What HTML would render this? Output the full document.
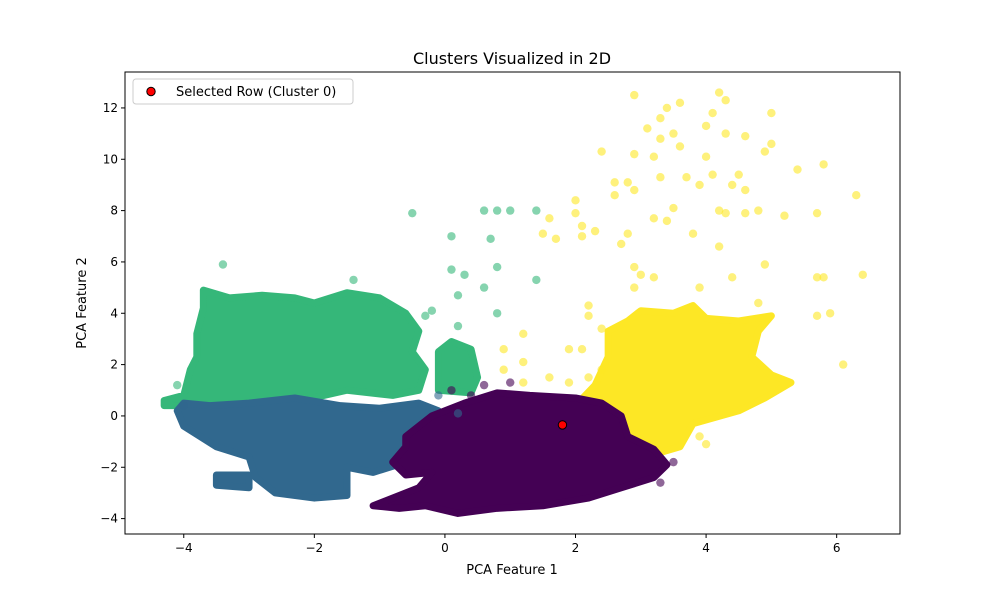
<!DOCTYPE html>
<html><head><meta charset="utf-8"><style>
body{margin:0;background:#fff;font-family:"Liberation Sans","DejaVu Sans",sans-serif}
svg text{font-family:"DejaVu Sans","Liberation Sans",sans-serif;fill:#000}
</style></head><body>
<svg id="chart" width="1000" height="600" xmlns="http://www.w3.org/2000/svg">
<rect width="1000" height="600" fill="#fff"/>
<text x="512" y="64" font-size="16" text-anchor="middle">Clusters Visualized in 2D</text>
<g id="marks"></g>
<rect x="125" y="72" width="775" height="462" fill="none" stroke="#000" stroke-width="1"/>
<g id="axes"></g>
<text x="512" y="574" font-size="13" text-anchor="middle">PCA Feature 1</text>
<text x="86" y="303" font-size="13" text-anchor="middle" transform="rotate(-90 86 303)">PCA Feature 2</text>
<g>
<rect x="133" y="79" width="220" height="25" rx="3" fill="#fff" fill-opacity="0.8" stroke="#ccc"/>
<circle cx="151" cy="91.5" r="4.2" fill="red" stroke="#000"/>
<text x="176" y="96" font-size="13">Selected Row (Cluster 0)</text>
</g>
</svg>
<script>
const xTicks=[-4,-2,0,2,4,6];
const yTicks=[-4,-2,0,2,4,6,8,10,12];
const clusterColors=["#440154","#31688e","#35b779","#fde725"];
const greenHull=[[-4.3,0.6],[-4.0,0.8],[-3.9,1.8],[-3.8,2.3],[-3.8,3.2],[-3.7,4.2],[-3.7,4.9],[-3.3,4.6],[-2.8,4.7],[-2.3,4.6],[-2.0,4.4],[-1.5,4.8],[-1.0,4.6],[-0.6,4.0],[-0.4,3.3],[-0.5,2.5],[-0.3,1.8],[-0.4,1.0],[-0.8,0.8],[-1.5,1.0],[-2.2,0.6],[-3.0,0.5],[-3.8,0.4],[-4.3,0.4]];
const greenHull2=[[-0.1,1.0],[-0.1,2.5],[0.1,2.9],[0.4,2.6],[0.5,1.5],[0.4,0.9]];
const blueHull=[[-4.0,0.5],[-3.6,0.4],[-3.0,0.5],[-2.3,0.7],[-1.6,0.4],[-1.0,0.3],[-0.4,0.5],[-0.1,0.2],[-0.2,-0.5],[-0.6,-1.8],[-1.1,-2.2],[-1.5,-2.0],[-1.5,-3.1],[-2.0,-3.2],[-2.6,-3.0],[-2.9,-2.4],[-3.0,-1.6],[-3.5,-1.2],[-4.0,-0.4],[-4.1,0.2]];
const blueHull2=[[-3.5,-2.3],[-3.0,-2.3],[-3.0,-2.8],[-3.5,-2.7]];
const purpleHull=[[-0.6,-0.8],[-0.2,0.0],[0.3,0.5],[0.8,0.9],[1.3,0.8],[2.0,0.7],[2.4,0.5],[2.7,0.0],[2.8,-0.8],[3.2,-1.3],[3.4,-1.9],[3.2,-2.4],[2.7,-2.8],[2.2,-3.2],[1.5,-3.5],[0.8,-3.6],[0.2,-3.8],[-0.3,-3.5],[-0.7,-3.6],[-1.1,-3.5],[-0.9,-3.3],[-0.4,-2.8],[-0.2,-2.2],[-0.6,-2.3],[-0.8,-1.8],[-0.6,-1.2]];
const yellowHull=[[2.0,0.4],[2.3,1.2],[2.5,2.3],[2.5,3.3],[2.8,3.7],[3.0,4.1],[3.5,4.0],[3.8,4.3],[4.0,3.8],[4.5,3.7],[5.0,3.9],[4.8,3.3],[4.7,2.3],[5.0,1.6],[5.3,1.3],[4.9,0.7],[4.5,0.2],[3.8,-0.3],[3.6,-1.2],[3.2,-1.5],[2.8,-0.8],[2.6,-0.2],[2.3,0.2]];
const greenPoints=[[-0.5,7.9],[0.6,8.0],[0.8,8.0],[1.0,8.0],[1.4,8.0],[0.1,7.0],[0.7,6.9],[0.1,5.7],[0.3,5.5],[0.8,5.8],[0.6,5.0],[0.2,4.7],[1.4,5.3],[0.8,4.0],[-3.4,5.9],[-1.4,5.3],[0.2,3.5],[-0.2,4.1],[-4.1,1.2],[-0.3,3.9]];
const yellowPoints=[[2.0,8.4],[2.0,7.9],[2.1,7.4],[2.1,7.0],[1.6,7.7],[1.5,7.1],[1.7,6.9],[2.3,7.2],[2.4,10.3],[2.6,8.6],[2.6,9.1],[2.8,9.1],[2.9,8.8],[2.9,10.2],[2.9,12.5],[2.7,6.7],[2.8,7.1],[3.0,5.5],[2.9,5.8],[2.9,5.0],[3.2,5.4],[3.1,11.2],[3.2,10.1],[3.3,11.6],[3.3,10.8],[3.4,12.0],[3.5,11.0],[3.6,12.2],[3.6,10.5],[3.7,9.3],[3.3,9.3],[3.4,7.6],[3.2,7.7],[3.5,8.1],[3.8,7.1],[3.9,9.0],[4.0,10.1],[4.0,11.3],[4.1,9.4],[4.1,11.8],[4.2,12.6],[4.3,12.3],[4.3,11.0],[4.2,8.0],[4.3,7.9],[4.2,6.6],[4.4,9.0],[4.5,9.4],[4.6,10.9],[4.6,8.8],[4.6,7.9],[4.8,8.0],[4.9,10.3],[5.0,10.6],[5.0,11.8],[5.2,7.8],[5.4,9.6],[5.7,7.9],[5.8,9.8],[5.8,5.4],[5.7,5.4],[5.9,4.0],[6.3,8.6],[6.4,5.5],[6.1,2.0],[5.7,3.9],[4.9,5.9],[4.8,4.4],[4.4,5.4],[3.9,5.0],[1.2,3.2],[0.9,2.6],[1.2,2.1],[1.9,2.6],[2.2,3.9],[2.2,4.3],[2.4,3.4],[1.2,1.3],[1.6,1.5],[0.9,1.8],[4.0,-1.1],[2.4,1.8],[2.1,2.6],[1.9,1.3],[2.2,1.5],[3.9,-0.8]];
const purplePoints=[[0.6,1.2],[1.0,1.3],[0.1,1.0],[0.4,0.8],[3.5,-1.8],[3.3,-2.6]];
const bluePoints=[[-0.1,0.8],[0.2,0.1],[-4.0,0.4]];
const selectedPoint=[1.8,-0.35];

const X0=-4.9,X1=6.97,Y0=-4.6,Y1=13.4,L=125,R=900,T=72,B=534;
const sx=v=>L+(v-X0)/(X1-X0)*(R-L);
const sy=v=>B-(v-Y0)/(Y1-Y0)*(B-T);
const NS="http://www.w3.org/2000/svg";
const marks=document.getElementById('marks'),axes=document.getElementById('axes');
function hull(pts,col,name){
  const p=document.createElementNS(NS,'polygon');
  p.setAttribute('points',pts.map(d=>sx(d[0])+','+sy(d[1])).join(' '));
  p.setAttribute('fill',col);p.setAttribute('stroke',col);p.setAttribute('stroke-width','7');
  p.setAttribute('stroke-linejoin','round');
  
  
  marks.appendChild(p);
}
function pts(arr,col,name){
  arr.forEach(d=>{
    const c=document.createElementNS(NS,'circle');
    c.setAttribute('cx',sx(d[0]));c.setAttribute('cy',sy(d[1]));c.setAttribute('r','4.2');
    c.setAttribute('fill',col);c.setAttribute('fill-opacity','0.6');
    
    
    marks.appendChild(c);
  });
}
hull(greenHull,clusterColors[2],'cluster-2-region');
hull(greenHull2,clusterColors[2],'cluster-2-region');
hull(blueHull,clusterColors[1],'cluster-1-region');
hull(blueHull2,clusterColors[1],'cluster-1-region');
hull(yellowHull,clusterColors[3],'cluster-3-region');
hull(purpleHull,clusterColors[0],'cluster-0-region');
pts(greenPoints,clusterColors[2],'cluster-2-point');
pts(yellowPoints,clusterColors[3],'cluster-3-point');
pts(bluePoints,clusterColors[1],'cluster-1-point');
pts(purplePoints,clusterColors[0],'cluster-0-point');
const sel=document.createElementNS(NS,'circle');
sel.setAttribute('cx',sx(selectedPoint[0]));sel.setAttribute('cy',sy(selectedPoint[1]));sel.setAttribute('r','4.2');
sel.setAttribute('fill','red');sel.setAttribute('stroke','#000');


marks.appendChild(sel);
xTicks.forEach(v=>{
  const l=document.createElementNS(NS,'line');
  l.setAttribute('x1',sx(v));l.setAttribute('x2',sx(v));l.setAttribute('y1',B);l.setAttribute('y2',B+4);l.setAttribute('stroke','#000');
  
  
  axes.appendChild(l);
  const t=document.createElementNS(NS,'text');
  t.setAttribute('x',sx(v));t.setAttribute('y',B+18);t.setAttribute('font-size','12');t.setAttribute('text-anchor','middle');
  t.textContent=v<0?'\u2212'+(-v):v;
  
  
  axes.appendChild(t);
});
yTicks.forEach(v=>{
  const l=document.createElementNS(NS,'line');
  l.setAttribute('x1',L-4);l.setAttribute('x2',L);l.setAttribute('y1',sy(v));l.setAttribute('y2',sy(v));l.setAttribute('stroke','#000');
  
  
  axes.appendChild(l);
  const t=document.createElementNS(NS,'text');
  t.setAttribute('x',L-7);t.setAttribute('y',sy(v)+4);t.setAttribute('font-size','12');t.setAttribute('text-anchor','end');
  t.textContent=v<0?'\u2212'+(-v):v;
  
  
  axes.appendChild(t);
});
</script>
</body></html>
